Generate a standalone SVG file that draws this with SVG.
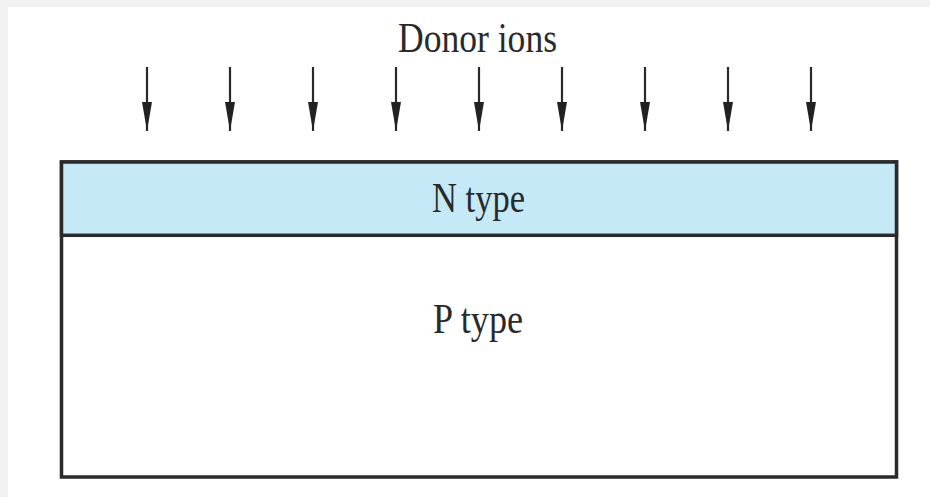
<svg xmlns="http://www.w3.org/2000/svg" width="930" height="497" viewBox="0 0 930 497">
  <style>
    .lbl { font-family: "Liberation Serif", "DejaVu Serif", serif; font-size: 42px; fill: #2a2a2a; text-anchor: start; }
    .arrow { stroke: #2a2a2a; stroke-width: 2.2; fill: none; marker-end: url(#head); }
    .box { stroke: #2a2a2a; stroke-width: 3.5; }
  </style>
  <defs>
    <marker id="head" markerUnits="userSpaceOnUse" markerWidth="29" markerHeight="12" viewBox="0 0 29 12" refX="29" refY="6" orient="auto">
      <path d="M0,1 L29,6 L0,11 Z" fill="#222"/>
    </marker>
  </defs>
  <rect x="0" y="0" width="930" height="497" fill="#f2f2f2"/>
  <rect x="8" y="7" width="922" height="490" fill="#ffffff"/>

  <g id="donor-ions">
    <text class="lbl" x="398" y="52" textLength="159" lengthAdjust="spacingAndGlyphs">Donor ions</text>
  </g>

  <g id="p-type">
    <rect class="box" x="61.5" y="162" width="835" height="315" fill="#ffffff"/>
    <text class="lbl" x="433" y="333" textLength="90" lengthAdjust="spacingAndGlyphs">P type</text>
  </g>

  <g id="n-type">
    <rect class="box" x="61.5" y="162" width="835" height="73.3" fill="#c6e9f8"/>
    <text class="lbl" x="432" y="212" textLength="93" lengthAdjust="spacingAndGlyphs">N type</text>
  </g>

  <g id="connectors">
    <line class="arrow" x1="147" y1="67" x2="147" y2="131"/>
    <line class="arrow" x1="230" y1="67" x2="230" y2="131"/>
    <line class="arrow" x1="313" y1="67" x2="313" y2="131"/>
    <line class="arrow" x1="396" y1="67" x2="396" y2="131"/>
    <line class="arrow" x1="479" y1="67" x2="479" y2="131"/>
    <line class="arrow" x1="562" y1="67" x2="562" y2="131"/>
    <line class="arrow" x1="645" y1="67" x2="645" y2="131"/>
    <line class="arrow" x1="728" y1="67" x2="728" y2="131"/>
    <line class="arrow" x1="811" y1="67" x2="811" y2="131"/>
  </g>
</svg>
